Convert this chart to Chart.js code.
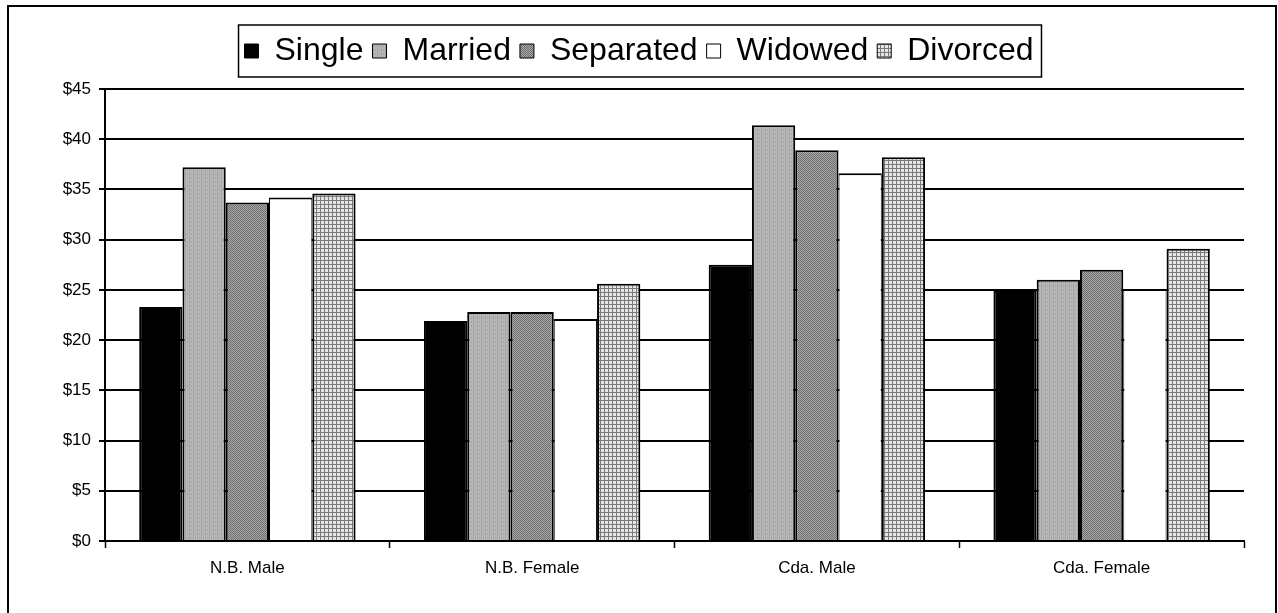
<!DOCTYPE html>
<html>
<head>
<meta charset="utf-8">
<script src="https://cdn.jsdelivr.net/npm/chart.js@4/dist/chart.umd.min.js"></script>
<style>
    html, body { margin: 0; padding: 0; background: #fff; }
    canvas { display: block; }
</style>
</head>
<body>
<canvas id="wageChart" width="1278" height="613"></canvas>
<script>
const categories = ['N.B. Male', 'N.B. Female', 'Cda. Male', 'Cda. Female'];
const single = [23.3, 21.9, 27.5, 25.0];
const married = [37.2, 22.8, 41.4, 26.0];
const separated = [33.7, 22.8, 38.9, 27.0];
const widowed = [34.2, 22.1, 36.6, 25.1];
const divorced = [34.6, 25.6, 38.2, 29.1];
const yTicks = [0, 5, 10, 15, 20, 25, 30, 35, 40, 45];

const FONT = "Arial, 'Liberation Sans', sans-serif";

// small tiled patterns to mimic the excel fills
const makePattern = (size, draw) => {
    const c = document.createElement('canvas');
    c.width = size;
    c.height = size;
    draw(c.getContext('2d'));
    return c.getContext('2d').createPattern(c, 'repeat');
};

const marriedFill = makePattern(4, g => {
    g.fillStyle = '#b8b8b8';
    g.fillRect(0, 0, 4, 4);
    g.fillStyle = '#a4a4a4';
    g.fillRect(1, 0, 1, 4);
    g.fillRect(3, 1, 1, 2);
});

const separatedFill = makePattern(2, g => {
    g.fillStyle = '#a8a8a8';
    g.fillRect(0, 0, 2, 2);
    g.fillStyle = '#6e6e6e';
    g.fillRect(0, 0, 1, 1);
    g.fillRect(1, 1, 1, 1);
});

const divorcedFill = makePattern(4, g => {
    g.fillStyle = '#e6e6e6';
    g.fillRect(0, 0, 4, 4);
    g.fillStyle = '#7a7a7a';
    g.fillRect(0, 0, 4, 1);
    g.fillRect(0, 0, 1, 4);
});

// border around the whole picture and around the legend,
// plus a bit of extra room under the legend and centring it on the canvas
const frames = {
    id: 'frames',
    afterInit(chart) {
        const legend = chart.legend;
        const origFit = legend.fit;
        legend.fit = function () {
            origFit.call(this);
            this.height += 12;
        };
    },
    afterLayout(chart) {
        chart.legend.left += 17;
        chart.legend.right += 17;
    },
    beforeDraw(chart) {
        const { ctx } = chart;
        ctx.save();
        ctx.fillStyle = '#fff';
        ctx.fillRect(0, 0, chart.width, chart.height);
        ctx.restore();
    },
    afterDraw(chart) {
        const { ctx } = chart;
        ctx.save();
        ctx.strokeStyle = '#000';
        ctx.lineWidth = 2;
        ctx.strokeRect(8, 6, 1268, 640);

        const boxes = chart.legend.legendHitBoxes;
        if (boxes && boxes.length) {
            const left = Math.min(...boxes.map(b => b.left)) - 6;
            const right = Math.max(...boxes.map(b => b.left + b.width)) + 8;
            const top = Math.min(...boxes.map(b => b.top)) - 10;
            const bottom = Math.max(...boxes.map(b => b.top + b.height)) + 10;
            ctx.lineWidth = 1.5;
            ctx.strokeRect(left, top, right - left, bottom - top);
        }
        ctx.restore();
    }
};

const ctx = document.getElementById('wageChart').getContext('2d');

new Chart(ctx, {
    type: 'bar',
    data: {
        labels: categories,
        datasets: [
            { label: 'Single', data: single, backgroundColor: '#000', borderColor: '#000', borderWidth: 2 },
            { label: 'Married', data: married, backgroundColor: marriedFill, borderColor: '#000', borderWidth: 2 },
            { label: 'Separated', data: separated, backgroundColor: separatedFill, borderColor: '#000', borderWidth: 2 },
            { label: 'Widowed', data: widowed, backgroundColor: '#fff', borderColor: '#000', borderWidth: { top: 2, left: 1, right: 1, bottom: 0 } },
            { label: 'Divorced', data: divorced, backgroundColor: divorcedFill, borderColor: '#000', borderWidth: 2 }
        ]
    },
    options: {
        responsive: false,
        animation: false,
        layout: {
            padding: { left: 0, right: 34, top: 26, bottom: 20 }
        },
        datasets: {
            bar: {
                categoryPercentage: 0.76,
                barPercentage: 1.0,
                borderSkipped: 'bottom'
            }
        },
        plugins: {
            tooltip: { enabled: false },
            legend: {
                position: 'top',
                labels: {
                    color: '#000',
                    font: { family: FONT, size: 32 },
                    boxWidth: 14,
                    boxHeight: 14,
                    padding: 9,
                    generateLabels(chart) {
                        return chart.data.datasets.map((ds, i) => ({
                            text: ds.label,
                            fillStyle: ds.backgroundColor,
                            strokeStyle: '#000',
                            lineWidth: 1,
                            datasetIndex: i,
                            fontColor: '#000'
                        }));
                    }
                }
            }
        },
        scales: {
            x: {
                grid: {
                    offset: true,
                    drawOnChartArea: false,
                    drawTicks: true,
                    tickLength: 7,
                    tickWidth: 1.5,
                    tickColor: '#000'
                },
                border: { color: '#000', width: 2 },
                ticks: {
                    color: '#000',
                    padding: 10,
                    font: { family: FONT, size: 17 }
                },
                afterFit(scale) { scale.height = 52; }
            },
            y: {
                min: 0,
                max: 45,
                grid: {
                    color: '#000',
                    lineWidth: 2,
                    drawTicks: true,
                    tickLength: 6,
                    tickColor: '#000'
                },
                border: { color: '#000', width: 2 },
                afterBuildTicks(scale) {
                    scale.ticks = yTicks.map(v => ({ value: v }));
                },
                ticks: {
                    color: '#000',
                    padding: 8,
                    font: { family: FONT, size: 17 },
                    callback: v => '$' + v
                },
                afterFit(scale) { scale.width = 105; }
            }
        }
    },
    plugins: [frames]
});
</script>
</body>
</html>
